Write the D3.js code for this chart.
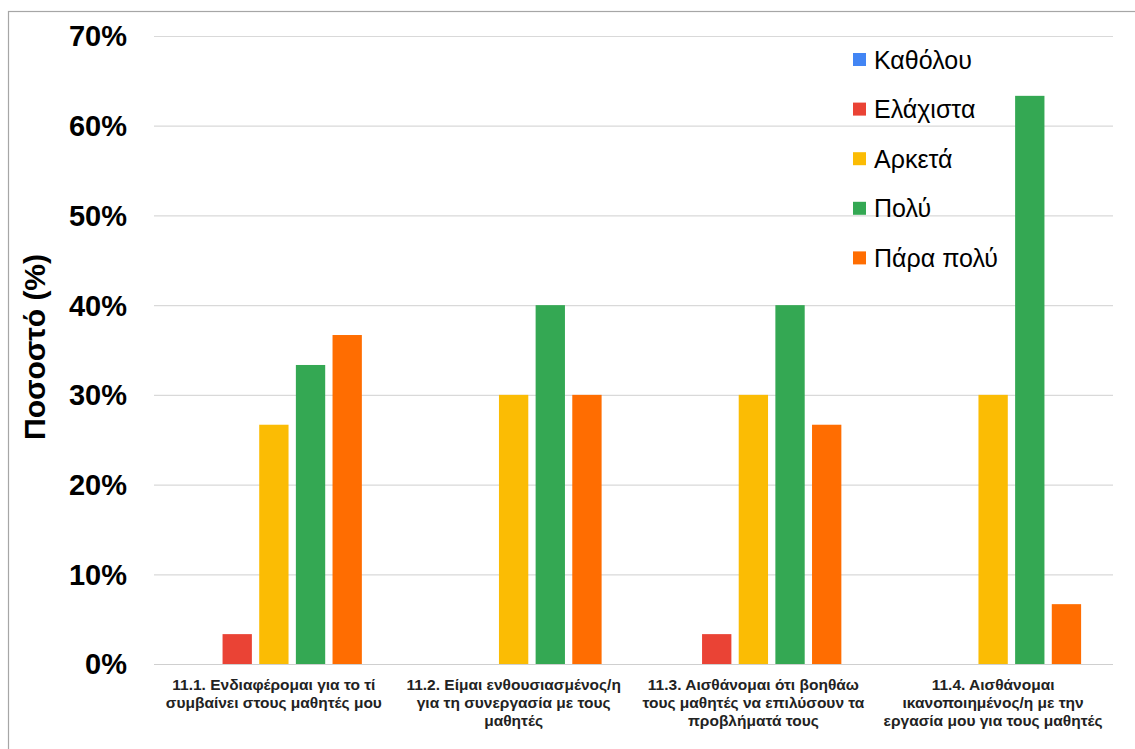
<!DOCTYPE html>
<html>
<head>
<meta charset="utf-8">
<script src="https://cdn.jsdelivr.net/npm/d3@7"></script>
<style>
  html, body { margin: 0; padding: 0; background: #fff; }
  svg { display: block; }
</style>
</head>
<body>
<svg id="chart" width="1135" height="749"></svg>
<script>
// Survey items (each label split into display lines)
const categories = [
  ["11.1. Ενδιαφέρομαι για το τί", "συμβαίνει στους μαθητές μου"],
  ["11.2. Είμαι ενθουσιασμένος/η", "για τη συνεργασία με τους", "μαθητές"],
  ["11.3. Αισθάνομαι ότι βοηθάω", "τους μαθητές να επιλύσουν τα", "προβλήματά τους"],
  ["11.4. Αισθάνομαι", "ικανοποιημένος/η με την", "εργασία μου για τους μαθητές"]
];
const seriesNames = ["Καθόλου", "Ελάχιστα", "Αρκετά", "Πολύ", "Πάρα πολύ"];
const seriesColors = ["#4285F4", "#EA4335", "#FBBC04", "#34A853", "#FF6D01"];

// Percentages per answer level, one array per survey item
const values11_1 = [0, 3.33, 26.67, 33.33, 36.67];
const values11_2 = [0, 0, 30, 40, 30];
const values11_3 = [0, 3.33, 30, 40, 26.67];
const values11_4 = [0, 0, 30, 63.33, 6.67];
const allValues = [values11_1, values11_2, values11_3, values11_4];

const yTicks = [0, 10, 20, 30, 40, 50, 60, 70];

const svg = d3.select("#chart");
const plot = { left: 154, right: 1113, top: 36, bottom: 664 };
const font = "Liberation Sans, Arial, sans-serif";

// Outer frame
svg.append("rect")
  .attr("x", 8.5).attr("y", 11.5)
  .attr("width", 1140).attr("height", 760)
  .attr("fill", "none").attr("stroke", "#a6a6a6").attr("stroke-width", 1.2);

const x0 = d3.scaleBand()
  .domain(d3.range(categories.length))
  .range([plot.left, plot.right])
  .paddingInner(0).paddingOuter(0);

const x1 = d3.scaleBand()
  .domain(d3.range(seriesNames.length))
  .range([0, x0.bandwidth()])
  .paddingInner(0.2)
  .paddingOuter(0.87);

const y = d3.scaleLinear().domain([0, 70]).range([plot.bottom, plot.top]);

// Gridlines
svg.append("g")
  .selectAll("line")
  .data(yTicks)
  .join("line")
  .attr("x1", plot.left).attr("x2", plot.right)
  .attr("y1", d => y(d) + 0.5).attr("y2", d => y(d) + 0.5)
  .attr("stroke", d => d === 0 ? "#cfcfcf" : "#d9d9d9")
  .attr("stroke-width", 1.2);

// Y tick labels
svg.append("g")
  .selectAll("text")
  .data(yTicks)
  .join("text")
  .attr("x", 127)
  .attr("y", d => y(d))
  .attr("dy", "0.36em")
  .attr("text-anchor", "end")
  .attr("font-family", font)
  .attr("font-weight", "bold")
  .attr("font-size", 29)
  .attr("fill", "#000")
  .text(d => d + "%");

// Y axis title
svg.append("text")
  .attr("transform", "translate(45,347) rotate(-90)")
  .attr("text-anchor", "middle")
  .attr("font-family", font)
  .attr("font-weight", "bold")
  .attr("font-size", 30)
  .attr("fill", "#000")
  .text("Ποσοστό (%)");

// Bars
const groups = svg.append("g")
  .selectAll("g")
  .data(allValues)
  .join("g")
  .attr("transform", (d, i) => `translate(${x0(i)},0)`);

groups.selectAll("rect")
  .data(d => d.map((v, j) => ({ v, j })))
  .join("rect")
  .attr("x", d => x1(d.j))
  .attr("width", x1.bandwidth())
  .attr("y", d => y(d.v))
  .attr("height", d => y(0) - y(d.v))
  .attr("fill", d => seriesColors[d.j]);

// Category labels
const catLabels = svg.append("g")
  .selectAll("text")
  .data(categories)
  .join("text")
  .attr("x", (d, i) => x0(i) + x0.bandwidth() / 2)
  .attr("y", 690)
  .attr("text-anchor", "middle")
  .attr("font-family", font)
  .attr("font-weight", "bold")
  .attr("font-size", 15.5)
  .attr("fill", "#222");

catLabels.selectAll("tspan")
  .data(d => d)
  .join("tspan")
  .attr("x", function () { return this.parentNode.getAttribute("x"); })
  .attr("dy", (d, i) => i === 0 ? 0 : 18)
  .text(d => d);

// Legend
const legend = svg.append("g")
  .selectAll("g")
  .data(seriesNames)
  .join("g")
  .attr("transform", (d, i) => `translate(853,${59.5 + i * 49.6})`);

legend.append("rect")
  .attr("x", 0).attr("y", -6.5)
  .attr("width", 13).attr("height", 13)
  .attr("fill", (d, i) => seriesColors[i]);

legend.append("text")
  .attr("x", 21)
  .attr("y", 0)
  .attr("dy", "0.36em")
  .attr("font-family", font)
  .attr("font-size", 25)
  .attr("fill", "#000")
  .text(d => d);
</script>
</body>
</html>
